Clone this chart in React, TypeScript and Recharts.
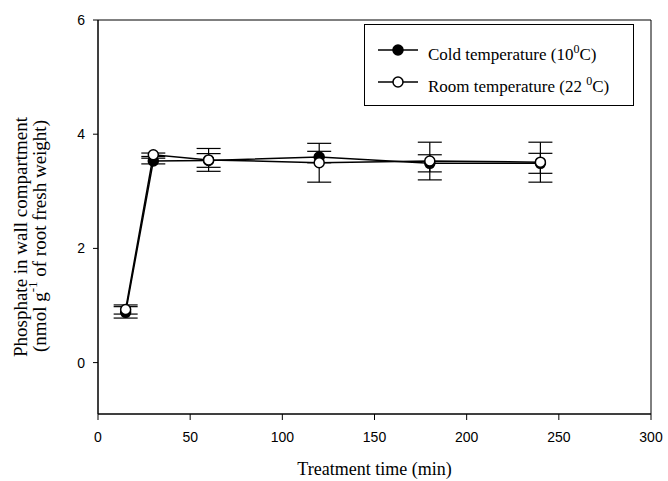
import { ComposedChart, Line, XAxis, YAxis, ErrorBar, ReferenceArea, Legend } from 'recharts';

const times = [15, 30, 60, 120, 180, 240];
const coldMean = [0.88, 3.53, 3.54, 3.6, 3.49, 3.49];
const coldErr = [0.1, 0.05, 0.12, 0.1, 0.15, 0.175];
const roomMean = [0.93, 3.64, 3.55, 3.5, 3.53, 3.51];
const roomErr = [0.08, 0.03, 0.2, 0.34, 0.33, 0.35];

const xTicks = [0, 50, 100, 150, 200, 250, 300];
const yTicks = [0, 2, 4, 6];

const coldData = times.map((t, i) => ({ t, v: coldMean[i], err: coldErr[i] }));
const roomData = times.map((t, i) => ({ t, v: roomMean[i], err: roomErr[i] }));

const SERIF = '"Liberation Serif", "Times New Roman", serif';
const SANS = '"Liberation Sans", Arial, sans-serif';

const LegendIcon = ({ filled }: { filled: boolean }) => (
  <svg width={42} height={14} style={{ position: 'absolute', left: 12, top: -7 }}>
    <line x1={1} y1={7} x2={41} y2={7} stroke="#000" strokeWidth={1.5} />
    <circle cx={21} cy={7} r={5} fill={filled ? '#000' : '#fff'} stroke="#000" strokeWidth={1.5} />
  </svg>
);

const LegendBox = () => (
  <div
    style={{
      width: 270,
      height: 82,
      border: '1px solid #000',
      boxSizing: 'border-box',
      background: '#fff',
      position: 'relative',
      fontFamily: SERIF,
      fontSize: 17,
      color: '#000',
    }}
  >
    <div style={{ position: 'absolute', top: 25, left: 0, width: '100%' }}>
      <LegendIcon filled />
      <span style={{ position: 'absolute', left: 63, top: -11, whiteSpace: 'nowrap', lineHeight: '20px' }}>
        Cold temperature (10<span style={{ fontSize: 12, verticalAlign: 'super' }}>0</span>C)
      </span>
    </div>
    <div style={{ position: 'absolute', top: 57, left: 0, width: '100%' }}>
      <LegendIcon filled={false} />
      <span style={{ position: 'absolute', left: 63, top: -11, whiteSpace: 'nowrap', lineHeight: '20px' }}>
        Room temperature (22 <span style={{ fontSize: 12, verticalAlign: 'super' }}>0</span>C)
      </span>
    </div>
  </div>
);

const YLabel = () => (
  <g fontFamily={SERIF} fontSize={19} fill="#000">
    <text x={20} y={237} transform="rotate(-90 20 237)" textAnchor="middle" dominantBaseline="central">
      Phosphate in wall compartment
    </text>
    <text x={39} y={236} transform="rotate(-90 39 236)" textAnchor="middle" dominantBaseline="central">
      (nmol g
      <tspan dy={-7} fontSize={13}>-1</tspan>
      <tspan dy={7}> of root fresh weight)</tspan>
    </text>
  </g>
);

const XLabel = (props: any) => {
  const vb = props.viewBox || { x: 98, y: 414, width: 553 };
  return (
    <text x={vb.x + vb.width / 2} y={vb.y + 61} textAnchor="middle" fontFamily={SERIF} fontSize={18} fill="#000">
      Treatment time (min)
    </text>
  );
};

export default function App() {
  return (
    <div style={{ position: 'absolute', left: 0, top: 0, width: 668, height: 481, background: '#fff' }}>
      <ComposedChart width={668} height={481} margin={{ top: 20, right: 17, bottom: 27, left: 38 }}>
        <XAxis
          type="number"
          dataKey="t"
          domain={[0, 300]}
          ticks={xTicks}
          allowDataOverflow
          height={40}
          tickSize={6}
          tickMargin={12}
          stroke="#000"
          tick={{ fill: '#000', fontSize: 14, fontFamily: SANS }}
          label={<XLabel />}
        />
        <YAxis
          type="number"
          domain={[-0.9, 6]}
          ticks={yTicks}
          allowDataOverflow
          width={60}
          tickSize={5}
          tickMargin={8}
          stroke="#000"
          tick={{ fill: '#000', fontSize: 14, fontFamily: SANS }}
          label={<YLabel />}
        />
        <ReferenceArea x1={0} x2={300} y1={-0.9} y2={6} fill="none" stroke="#000" strokeWidth={1} ifOverflow="visible" />
        <Legend
          layout="vertical"
          align="center"
          verticalAlign="middle"
          wrapperStyle={{ left: 364, top: 24, width: 270, height: 82 }}
          content={() => <LegendBox />}
        />
        <Line
          data={coldData}
          dataKey="v"
          name="Cold temperature"
          stroke="#000"
          strokeWidth={1.5}
          dot={{ r: 5, fill: '#000', stroke: '#000', strokeWidth: 1.5 }}
          activeDot={false}
          isAnimationActive={false}
        >
          <ErrorBar dataKey="err" width={12} stroke="#000" strokeWidth={1.2} direction="y" isAnimationActive={false} />
        </Line>
        <Line
          data={roomData}
          dataKey="v"
          name="Room temperature"
          stroke="#000"
          strokeWidth={1.5}
          dot={{ r: 5, fill: '#fff', stroke: '#000', strokeWidth: 1.5 }}
          activeDot={false}
          isAnimationActive={false}
        >
          <ErrorBar dataKey="err" width={12} stroke="#000" strokeWidth={1.2} direction="y" isAnimationActive={false} />
        </Line>
      </ComposedChart>
    </div>
  );
}
